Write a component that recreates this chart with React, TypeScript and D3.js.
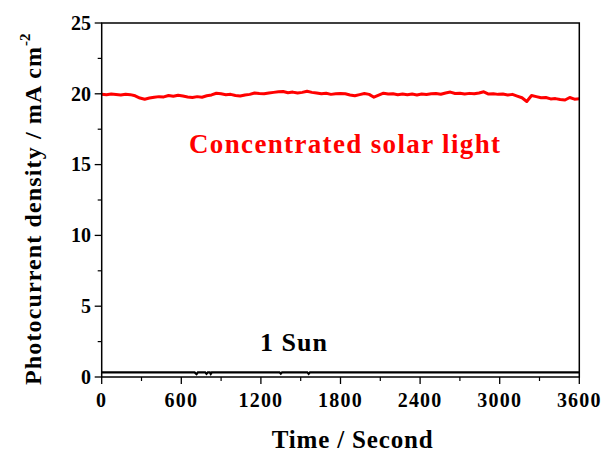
import React from "react";
import * as d3 from "d3";

const concTimes = [0,36,72,108,144,180,216,252,288,324,360,396,432,468,504,540,576,612,648,684,720,756,792,828,864,900,936,972,1008,1044,1080,1116,1152,1188,1224,1260,1296,1332,1368,1404,1440,1476,1512,1548,1584,1620,1656,1692,1728,1764,1800,1836,1872,1908,1944,1980,2016,2052,2088,2124,2160,2196,2232,2268,2304,2340,2376,2412,2448,2484,2520,2556,2592,2628,2664,2700,2736,2772,2808,2844,2880,2916,2952,2988,3024,3060,3096,3132,3168,3204,3240,3276,3312,3348,3384,3420,3456,3492,3528,3564,3600];
const concValues = [19.97,19.93,19.98,19.95,19.92,19.97,19.94,19.86,19.70,19.62,19.70,19.76,19.80,19.78,19.88,19.83,19.90,19.84,19.78,19.74,19.80,19.76,19.86,19.92,20.04,20.00,19.94,19.96,19.88,19.84,19.92,19.96,20.06,20.02,20.00,20.05,20.10,20.14,20.16,20.08,20.12,20.05,20.10,20.18,20.10,20.05,20.00,20.04,19.96,20.00,20.02,20.00,19.92,19.86,19.94,20.02,19.96,19.76,19.90,20.04,19.98,20.00,19.94,19.98,19.94,19.98,19.92,19.98,19.95,20.00,20.02,19.97,20.06,20.12,20.02,20.04,19.98,20.03,20.00,20.06,20.14,19.98,20.00,19.96,19.98,19.92,19.96,19.84,19.72,19.46,19.88,19.80,19.72,19.74,19.64,19.66,19.60,19.56,19.74,19.62,19.65];

const sunTimes = [0,700,715,725,780,790,800,815,822,830,1340,1350,1360,1550,1560,1570,3600];
const sunValues = [0.33,0.33,0.2,0.33,0.33,0.22,0.33,0.33,0.22,0.33,0.33,0.24,0.33,0.33,0.22,0.33,0.33];

const xTicks = [0,600,1200,1800,2400,3000,3600];
const xMinor = [300,900,1500,2100,2700,3300];
const yTicks = [0,5,10,15,20,25];
const yMinor = [2.5,7.5,12.5,17.5,22.5];

const FONT = "'Liberation Serif', 'Times New Roman', serif";

export default function App() {
  const W = 608, H = 453;
  const left = 101.7, right = 579.3, top = 23, bottom = 377;
  const x = d3.scaleLinear().domain([0, 3600]).range([left, right]);
  const y = d3.scaleLinear().domain([0, 25]).range([bottom, top]);

  const conc = concTimes.map((t, i) => [t, concValues[i]] as [number, number]);
  const sun = sunTimes.map((t, i) => [t, sunValues[i]] as [number, number]);
  const line = d3.line<[number, number]>().x(d => x(d[0])).y(d => y(d[1]));

  return (
    <svg width={W} height={H} style={{ position: "absolute", left: 0, top: 0, background: "#fff" }}>
      <rect x={0} y={0} width={W} height={H} fill="#fff" />
      <path d={line(conc) || ""} fill="none" stroke="#ff0000" strokeWidth={3} strokeLinejoin="round" />
      <path d={line(sun) || ""} fill="none" stroke="#000" strokeWidth={2.2} />
      <rect x={left} y={top} width={right - left} height={bottom - top} fill="none" stroke="#000" strokeWidth={1.5} />
      {xTicks.map(t => (
        <g key={"xt" + t}>
          <line x1={x(t)} x2={x(t)} y1={bottom} y2={bottom + 7} stroke="#000" strokeWidth={1.3} />
          <text x={x(t)} y={407} textAnchor="middle" fontFamily={FONT} fontWeight="bold" fontSize={20} letterSpacing={1.2}>{t}</text>
        </g>
      ))}
      {xMinor.map(t => (
        <line key={"xm" + t} x1={x(t)} x2={x(t)} y1={bottom} y2={bottom + 4} stroke="#000" strokeWidth={1.2} />
      ))}
      {yTicks.map(v => (
        <g key={"yt" + v}>
          <line x1={left - 7} x2={left} y1={y(v)} y2={y(v)} stroke="#000" strokeWidth={1.3} />
          <text x={91} y={y(v) + 6.8} textAnchor="end" fontFamily={FONT} fontWeight="bold" fontSize={20}>{v}</text>
        </g>
      ))}
      {yMinor.map(v => (
        <line key={"ym" + v} x1={left - 4} x2={left} y1={y(v)} y2={y(v)} stroke="#000" strokeWidth={1.2} />
      ))}
      <text x={189} y={153} fill="#ff0000" fontFamily={FONT} fontWeight="bold" fontSize={27} textLength={311} lengthAdjust="spacing">Concentrated solar light</text>
      <text x={260} y={350.7} fill="#000" fontFamily={FONT} fontWeight="bold" fontSize={26} textLength={67} lengthAdjust="spacing">1 Sun</text>
      <text x={271.7} y={448} fill="#000" fontFamily={FONT} fontWeight="bold" fontSize={25} textLength={161} lengthAdjust="spacing">Time / Second</text>
      <text transform="translate(41,385) rotate(-90)" fill="#000" fontFamily={FONT} fontWeight="bold" fontSize={24}>
        <tspan textLength={338} lengthAdjust="spacing">Photocurrent density / mA cm</tspan>
        <tspan dy={-11} fontSize={15}>-2</tspan>
      </text>
    </svg>
  );
}
